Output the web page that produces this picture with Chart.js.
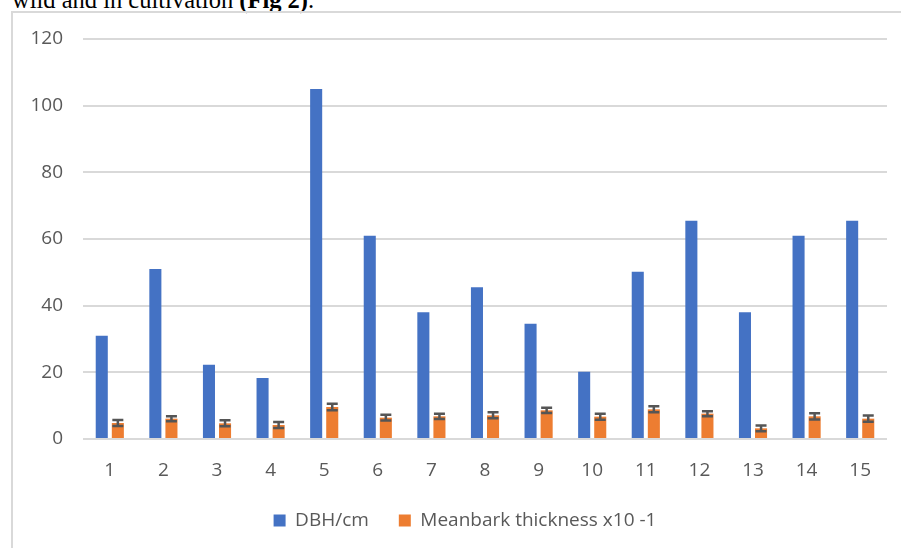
<!DOCTYPE html>
<html>
<head>
<meta charset="utf-8">
<script src="https://cdn.jsdelivr.net/npm/chart.js@4"></script>
<style>
  html, body { margin: 0; padding: 0; background: #fff; }
  body { width: 901px; height: 548px; position: relative; overflow: hidden; }
  #caption { position: absolute; left: 12px; top: -12px; font-family: "Liberation Serif", "Times New Roman", serif; font-size: 24.5px; line-height: 24px; color: #000; white-space: nowrap; }
  #frame { position: absolute; left: 11px; top: 11px; width: 900px; height: 548px; border-left: 2px solid #d9d9d9; border-top: 2px solid #d9d9d9; }
  #wrap { position: absolute; left: 13px; top: 13px; width: 888px; height: 535px; }
</style>
</head>
<body>
<div id="caption">wild and in cultivation <b>(Fig 2)</b>.</div>
<div id="frame"></div>
<div id="wrap"><canvas id="c"></canvas></div>
<script>
const categories = ["1","2","3","4","5","6","7","8","9","10","11","12","13","14","15"];
const dbh = [31, 51, 22.3, 18.3, 105, 61, 38, 45.5, 34.6, 20.2, 50.2, 65.5, 38, 61, 65.5];
const bark = [4.8, 6.1, 4.7, 4.2, 9.6, 6.4, 6.8, 7.1, 8.6, 6.7, 8.9, 7.6, 3.2, 6.8, 6.1];
const barkErr = [0.9, 0.75, 0.9, 0.9, 1.0, 0.85, 0.8, 0.9, 0.8, 0.9, 0.9, 0.75, 0.85, 0.95, 0.95];
const yTicks = [0, 20, 40, 60, 80, 100, 120];
const seriesNames = ["DBH/cm", "Meanbark thickness x10 -1"];

const FONT = '"Open Sans", sans-serif';
const TXT = '#595959';

const errorBars = {
  id: 'errorBars',
  afterDatasetsDraw(chart) {
    const meta = chart.getDatasetMeta(1);
    const ys = chart.scales.y;
    const ctx = chart.ctx;
    ctx.save();
    ctx.strokeStyle = '#555555';
    ctx.lineWidth = 2.5;
    meta.data.forEach((bar, i) => {
      const x = bar.x;
      const yTop = ys.getPixelForValue(bark[i] + barkErr[i]);
      const yBot = ys.getPixelForValue(bark[i] - barkErr[i]);
      const half = 5.5;
      ctx.beginPath();
      ctx.moveTo(x, yTop); ctx.lineTo(x, yBot);
      ctx.moveTo(x - half, yTop); ctx.lineTo(x + half, yTop);
      ctx.moveTo(x - half, yBot); ctx.lineTo(x + half, yBot);
      ctx.stroke();
    });
    ctx.restore();
  }
};

const legendShift = {
  id: 'legendShift',
  afterLayout(chart) {
    if (chart.legend) { chart.legend.left += 30; }
  }
};

new Chart(document.getElementById('c'), {
  type: 'bar',
  data: {
    labels: categories,
    datasets: [
      { label: seriesNames[0], data: dbh, backgroundColor: '#4472C4', barPercentage: 0.75, categoryPercentage: 0.6 },
      { label: seriesNames[1], data: bark, backgroundColor: '#ED7D31', barPercentage: 0.75, categoryPercentage: 0.6 }
    ]
  },
  options: {
    responsive: true,
    maintainAspectRatio: false,
    animation: false,
    layout: { padding: { left: 0, right: 14, top: 26, bottom: 8 } },
    plugins: {
      tooltip: { enabled: false },
      legend: {
        position: 'bottom',
        labels: {
          boxWidth: 12, boxHeight: 12, padding: 30,
          color: TXT, font: { family: FONT, size: 19 }
        }
      }
    },
    scales: {
      x: {
        grid: { display: false, drawTicks: false },
        border: { display: false },
        ticks: { color: TXT, font: { family: FONT, size: 19 }, padding: 20, maxRotation: 0 },
        afterFit(s) { s.height = 42; }
      },
      y: {
        min: 0, max: 120,
        afterBuildTicks(s) { s.ticks = yTicks.map(v => ({ value: v })); },
        grid: { color: '#d9d9d9', lineWidth: 2, drawTicks: false },
        border: { display: false },
        ticks: { color: TXT, font: { family: FONT, size: 19 }, padding: 20 },
        afterFit(s) { s.width = 70; s.paddingTop = 12; s.paddingBottom = 12; }
      }
    }
  },
  plugins: [errorBars, legendShift]
});
</script>
</body>
</html>
